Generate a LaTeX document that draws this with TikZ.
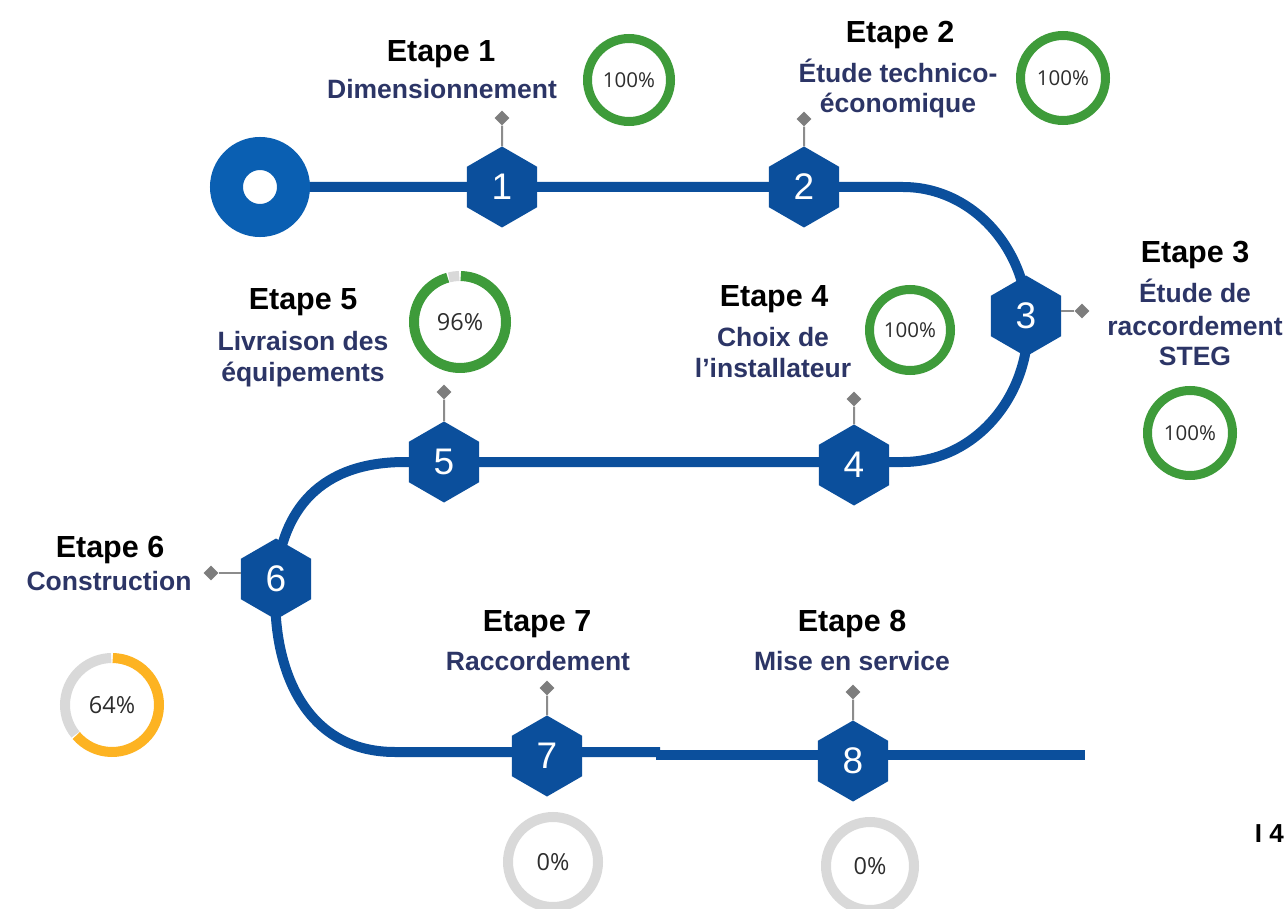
\documentclass[tikz,border=0pt]{standalone}
\usepackage{fontspec}
\setmainfont{Liberation Sans}
\newfontfamily\pctfont{Open Sans}
\usetikzlibrary{shapes.geometric,backgrounds}

\definecolor{trackblue}{RGB}{11,79,156}
\definecolor{startblue}{RGB}{10,95,178}
\definecolor{ringgreen}{RGB}{62,155,58}
\definecolor{ringorange}{RGB}{253,179,34}
\definecolor{ringgrey}{RGB}{217,217,217}
\definecolor{stemgrey}{RGB}{140,140,140}
\definecolor{tipgrey}{RGB}{125,125,125}
\definecolor{subnavy}{RGB}{44,53,102}
\definecolor{pcttext}{RGB}{45,45,45}

\tikzset{
  track/.style={draw=trackblue, line width=10pt},
  startring/.style={circle, draw=startblue, fill=white, line width=33pt, minimum size=67pt, inner sep=0pt},
  hexnode/.style={regular polygon, regular polygon sides=6, regular polygon rotate=30,
    minimum size=81pt, inner sep=0pt, fill=trackblue, text=white,
    font=\fontsize{37}{41}\selectfont},
  tip/.style={diamond, fill=tipgrey, minimum width=15pt, minimum height=15pt, inner sep=0pt},
  stem/.style={draw=stemgrey, line width=2pt},
  etape/.style={anchor=base, inner sep=0pt, text=black, font=\fontsize{30.5}{35}\selectfont\bfseries},
  sublabel/.style={anchor=base, inner sep=0pt, text=subnavy, font=\fontsize{26.5}{31}\selectfont\bfseries},
  pct/.style={inner sep=0pt, text=pcttext, font=\pctfont\fontsize{23.5}{27}\selectfont},
  pctsmall/.style={pct, font=\pctfont\fontsize{20.5}{23}\selectfont},
  ring/.style={line width=9pt, line cap=butt},
  ringwide/.style={line width=10pt, line cap=butt},
}

\begin{document}
\begin{tikzpicture}[x=1pt,y=-1pt]
\begin{pgfonlayer}{background}
  \fill[white] (0,0) rectangle (1285,909);
\end{pgfonlayer}
\useasboundingbox (0,0) rectangle (1285,909);

% start marker and step hexagons
\node[startring] (s0) at (260,187) {};
\node[hexnode] (h1) at (502,187) {1};
\node[hexnode] (h2) at (804,187) {2};
\node[hexnode] (h3) at (1026,316) {3};
\node[hexnode] (h4) at (854,465) {4};
\node[hexnode] (h5) at (444,462) {5};
\node[hexnode] (h6) at (276,579) {6};
\node[hexnode] (h7) at (547,756) {7};
\node[hexnode] (h8) at (853,761) {8};

% bends and ends of the track
\coordinate (c1) at (903,187);
\coordinate (c3) at (405,462);
\coordinate (c4) at (395,752);
\coordinate (c5) at (660,752);
\coordinate (c6) at (656,755);
\coordinate (c7) at (1085,755);

\begin{pgfonlayer}{background}
  \draw[track] (s0.center) -- (h1.center) -- (h2.center) -- (c1)
    arc[start angle=-90, end angle=90, x radius=125, y radius=137.5]
    -- (h5.center) -- (c3)
    .. controls (320,462) and (282,510) .. (h6.center)
    .. controls (270,660) and (300,752) .. (c4) -- (c5);
  \draw[track] (c6) -- (c7);
\end{pgfonlayer}

% label pins
\node[tip] (d1) at (502,118) {};
\node[tip] (d2) at (804,119) {};
\node[tip] (d3) at (1082,311) {};
\node[tip] (d4) at (854,399) {};
\node[tip] (d5) at (444,392) {};
\node[tip] (d6) at (211,573) {};
\node[tip] (d7) at (547,688) {};
\node[tip] (d8) at (853,692) {};
\draw[stem] (d1.south) -- (h1.north);
\draw[stem] (d2.south) -- (h2.north);
\draw[stem] (d3.west) -- (d3 -| h3.east);
\draw[stem] (d4.south) -- (h4.north);
\draw[stem] (d5.south) -- (h5.north);
\draw[stem] (d6.east) -- (d6 -| h6.west);
\draw[stem] (d7.south) -- (h7.north);
\draw[stem] (d8.south) -- (h8.north);

% step titles
\node[etape] (e1) at (441,62) {Etape 1};
\node[sublabel] (t1) at (442,99) {Dimensionnement};
\node[etape] (e2) at (900,43) {Etape 2};
\node[sublabel] (t2a) at (898,83) {Étude technico-};
\node[sublabel] (t2b) at (898,113) {économique};
\node[etape] (e3) at (1195,263) {Etape 3};
\node[sublabel] (t3a) at (1195,303) {Étude de};
\node[sublabel] (t3b) at (1195,335) {raccordement};
\node[sublabel] (t3c) at (1195,365) {STEG};
\node[etape] (e4) at (774,307) {Etape 4};
\node[sublabel] (t4a) at (773,346) {Choix de};
\node[sublabel] (t4b) at (773,377) {l’installateur};
\node[etape] (e5) at (303,310) {Etape 5};
\node[sublabel] (t5a) at (303,350) {Livraison des};
\node[sublabel] (t5b) at (303,381) {équipements};
\node[etape] (e6) at (110,557) {Etape 6};
\node[sublabel] (t6) at (109,590) {Construction};
\node[etape] (e7) at (537,631) {Etape 7};
\node[sublabel] (t7) at (538,670) {Raccordement};
\node[etape] (e8) at (852,631) {Etape 8};
\node[sublabel] (t8) at (852,670) {Mise en service};

% progress rings
\node[pctsmall] (p1) at (629,80) {100\%};
\draw[ring, ringgreen] (p1.center) circle[radius=41.5];
\node[pctsmall] (p2) at (1063,78) {100\%};
\draw[ring, ringgreen] (p2.center) circle[radius=42.5];
\node[pctsmall] (p3) at (1190,433) {100\%};
\draw[ring, ringgreen] (p3.center) circle[radius=42.5];
\node[pctsmall] (p4) at (910,330) {100\%};
\draw[ring, ringgreen] (p4.center) circle[radius=40.5];

\node[pct] (p5) at (460,322) {96\%};
\draw[ringwide, ringgreen] (p5.center) ++(-89:46) arc[start angle=-89, end angle=254.5, radius=46];
\draw[ringwide, ringgrey] (p5.center) ++(256:46) arc[start angle=256, end angle=269, radius=46];

\node[pct] (p6) at (112,705) {64\%};
\draw[ringwide, ringorange] (p6.center) ++(-89:47) arc[start angle=-89, end angle=139.5, radius=47];
\draw[ringwide, ringgrey] (p6.center) ++(141:47) arc[start angle=141, end angle=269, radius=47];

\node[pct] (p7) at (553,862) {0\%};
\draw[ringwide, ringgrey] (p7.center) circle[radius=45];
\node[pct] (p8) at (870,866) {0\%};
\draw[ringwide, ringgrey] (p8.center) circle[radius=44];

% page number
\node[anchor=base east, inner sep=0pt, font=\fontsize{26}{30}\selectfont\bfseries] (pg) at (1284,842) {I 4};
\end{tikzpicture}
\end{document}
